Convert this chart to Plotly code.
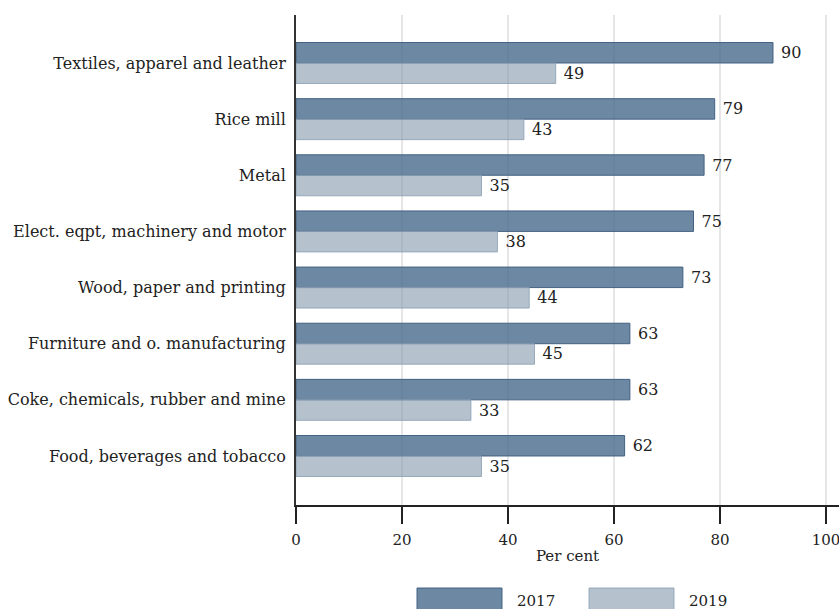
import plotly.graph_objects as go

# Sectors, top to bottom
sectors = [
    "Textiles, apparel and leather",
    "Rice mill",
    "Metal",
    "Elect. eqpt, machinery and motor",
    "Wood, paper and printing",
    "Furniture and o. manufacturing",
    "Coke, chemicals, rubber and mine",
    "Food, beverages and tobacco",
]
share_2017 = [90, 79, 77, 75, 73, 63, 63, 62]
share_2019 = [49, 43, 35, 38, 44, 45, 33, 35]
years = ["2017", "2019"]
x_ticks = [0, 20, 40, 60, 80, 100]

FONT = "DejaVu Serif"
W, H = 839, 609
L, R, T, B = 296, 0, 15, 104

fills = ["rgba(72,106,140,0.80)", "rgba(132,153,173,0.60)"]
edges = ["rgba(62,94,128,0.95)", "rgba(140,160,180,0.85)"]

fig = go.Figure()
for name, vals, fc, ec in zip(years, [share_2017, share_2019], fills, edges):
    fig.add_trace(go.Bar(
        y=sectors, x=vals, name=name, orientation="h",
        marker=dict(color=fc, line=dict(color=ec, width=1)),
        text=vals, texttemplate=" %{text}", textposition="outside",
        textfont=dict(family=FONT, size=16, color="#222"),
        cliponaxis=False, showlegend=False,
    ))

fig.update_layout(
    width=W, height=H,
    margin=dict(l=L, r=R, t=T, b=B, pad=0),
    paper_bgcolor="white", plot_bgcolor="white",
    barmode="group", bargap=0.27, bargroupgap=0,
    font=dict(family=FONT, size=15, color="#222"),
)

fig.update_xaxes(
    range=[0, (W - L - R) / 5.3], tickvals=x_ticks,
    showgrid=True, gridcolor="#e6e6e6", gridwidth=1.5, zeroline=False,
    showline=True, linecolor="#222", linewidth=2,
    ticks="outside", ticklen=17, tickwidth=2, tickcolor="#222",
    tickfont=dict(family=FONT, size=15, color="#222"),
    ticklabeloverflow="allow", ticklabelstandoff=3,
    title=dict(text="Per cent", font=dict(family=FONT, size=15, color="#222"), standoff=2),
)
fig.update_yaxes(
    type="category", range=[7.873, -0.855],
    showgrid=False, zeroline=False,
    showline=True, linecolor="#333", linewidth=2,
    ticks="", ticklabelstandoff=5,
    tickfont=dict(family=FONT, size=16, color="#222"),
)

# Legend swatches drawn below the axis
plot_w, plot_h = W - L - R, H - T - B
def px(xp):
    return (xp - L) / plot_w
def py(yp):
    return (H - B - yp) / plot_h

for name, fc, ec, x0 in zip(years, fills, edges, [417, 589]):
    fig.add_shape(type="rect", xref="paper", yref="paper",
                  x0=px(x0), x1=px(x0 + 85), y0=py(588), y1=py(625),
                  fillcolor=fc, line=dict(color=ec, width=1))
    fig.add_annotation(xref="paper", yref="paper", x=px(x0 + 98), y=py(601),
                       text=name, showarrow=False, xanchor="left", yanchor="middle",
                       font=dict(family=FONT, size=15, color="#222"))

fig.write_html("out.html")
